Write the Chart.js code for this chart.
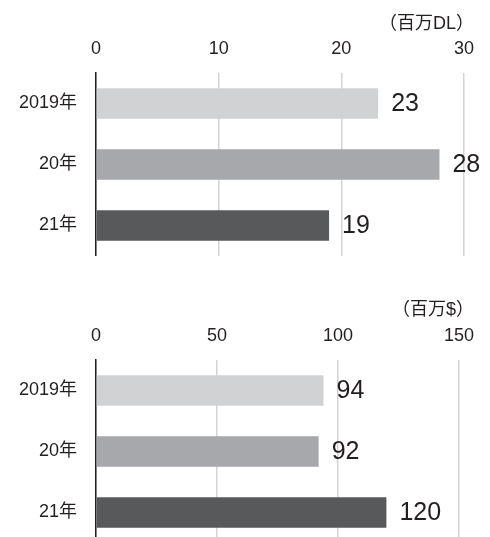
<!DOCTYPE html>
<html>
<head>
<meta charset="utf-8">
<script src="https://cdn.jsdelivr.net/npm/chart.js@4"></script>
<style>
    html, body { margin: 0; padding: 0; background: #fff; overflow: hidden; }
    body { width: 490px; height: 537px; position: relative; }
    .box { position: absolute; left: 0; width: 490px; }
    #top { top: 0; height: 256px; }
    #bottom { top: 280px; height: 263px; }
</style>
</head>
<body>
<div class="box" id="top"><canvas id="dl"></canvas></div>
<div class="box" id="bottom"><canvas id="rev"></canvas></div>
<script>
const years = ["2019年", "20年", "21年"];
const downloads = [23, 28, 19];   // 百万DL
const revenue = [94, 92, 120];    // 百万$
const barColors = ["#d1d2d4", "#a7a8ab", "#58595b"];

const FONT = '"Liberation Sans", "Noto Sans CJK JP", sans-serif';
const INK = "#231f20";

// 棒の右に値を書く
const valueLabels = {
    id: "valueLabels",
    afterDatasetsDraw(chart) {
        const ctx = chart.ctx;
        const meta = chart.getDatasetMeta(0);
        ctx.save();
        ctx.font = "25px " + FONT;
        ctx.fillStyle = INK;
        ctx.textBaseline = "middle";
        ctx.textAlign = "left";
        meta.data.forEach((bar, i) => {
            ctx.fillText(chart.data.datasets[0].data[i], bar.x + 13, bar.y + 1);
        });
        ctx.restore();
    }
};

// 右上の単位
const unitLabel = {
    id: "unitLabel",
    afterDraw(chart, args, opts) {
        const ctx = chart.ctx;
        ctx.save();
        ctx.font = "18px " + FONT;
        ctx.fillStyle = INK;
        ctx.textBaseline = "middle";
        ctx.textAlign = "right";
        ctx.fillText(opts.text, opts.x, opts.y);
        ctx.restore();
    }
};

function drawChart(selector, values, max, step, unit, area) {
    const canvas = document.querySelector(selector);

    return new Chart(canvas, {
        type: "bar",
        data: {
            labels: years,
            datasets: [{
                data: values,
                backgroundColor: barColors,
                barPercentage: 0.5,
                categoryPercentage: 1
            }]
        },
        options: {
            indexAxis: "y",
            responsive: true,
            maintainAspectRatio: false,
            animation: false,
            layout: { padding: { left: 0, top: 0, right: area.right, bottom: 0 } },
            plugins: {
                legend: { display: false },
                tooltip: { enabled: false },
                unitLabel: unit
            },
            scales: {
                x: {
                    position: "top",
                    min: 0,
                    max: max,
                    ticks: {
                        stepSize: step,
                        padding: area.tickPad,
                        color: INK,
                        font: { family: FONT, size: 18 }
                    },
                    grid: { color: "#d3d3d3", lineWidth: 1.5, drawTicks: false },
                    border: { display: false },
                    afterFit: s => {
                        s.height = area.top;
                        s.paddingLeft = 0;
                        s.paddingRight = 0;
                    }
                },
                y: {
                    ticks: {
                        padding: 19,
                        color: INK,
                        font: { family: FONT, size: 18 }
                    },
                    grid: { display: false, drawTicks: false },
                    border: { display: true, color: "#231f20", width: 1.5 },
                    afterFit: s => {
                        s.width = 96;
                        s.paddingTop = 0;
                        s.paddingBottom = 0;
                    }
                }
            }
        },
        plugins: [valueLabels, unitLabel]
    });
}

drawChart("#dl", downloads, 30, 10,
    { text: "（百万DL）", x: 474, y: 24 },
    { top: 73, right: 26, tickPad: 13 });

drawChart("#rev", revenue, 150, 50,
    { text: "（百万$）", x: 474, y: 30 },
    { top: 80, right: 31, tickPad: 13 });
</script>
</body>
</html>
